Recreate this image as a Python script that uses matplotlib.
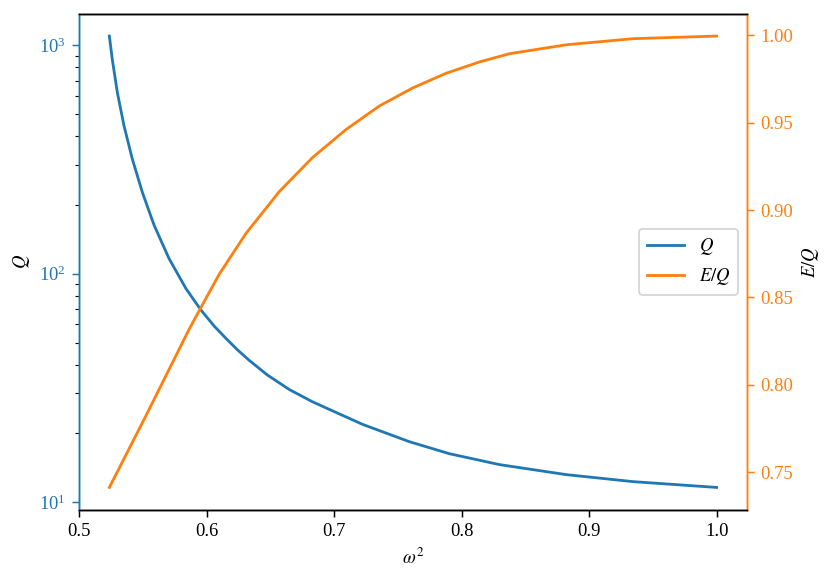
import matplotlib
matplotlib.use("Agg")
import matplotlib.pyplot as plt

plt.rcParams['font.family'] = ['serif']
plt.rcParams['font.serif'] = ['Liberation Serif', 'DejaVu Serif']
plt.rcParams['mathtext.fontset'] = 'stix'

# Data
omega2_q = [0.5238, 0.5261, 0.5301, 0.5353, 0.5418, 0.5497, 0.5589, 0.5706, 0.5838,
            0.5955, 0.6060, 0.6151, 0.6243, 0.6334, 0.6478, 0.6650, 0.6831, 0.7224,
            0.7590, 0.7904, 0.8297, 0.8820, 0.9343, 1.0]
Q_vals = [1098, 867, 620, 444, 318, 227, 163, 116.5, 86.2,
          69.5, 59.0, 52.2, 46.4, 41.8, 36.0, 31.1, 27.5, 21.9,
          18.4, 16.3, 14.6, 13.2, 12.3, 11.6]

omega2_e = [0.5238, 0.5524, 0.5785, 0.5863, 0.5955, 0.6099, 0.6308, 0.6570, 0.6831,
            0.7093, 0.7355, 0.7616, 0.7878, 0.8140, 0.8375, 0.8820, 0.9343, 1.0]
EQ_vals = [0.7413, 0.7822, 0.8203, 0.8317, 0.8441, 0.8632, 0.8865, 0.9105, 0.9300,
           0.9460, 0.9595, 0.9698, 0.9782, 0.9847, 0.9894, 0.9945, 0.9980, 0.9995]

dpi = 134
fig, ax = plt.subplots(figsize=(831 / dpi, 581 / dpi), dpi=dpi)
fig.subplots_adjust(left=79 / 831, right=747 / 831, top=1 - 13.5 / 581, bottom=1 - 510 / 581)

l1, = ax.plot(omega2_q, Q_vals, color='C0', label=r'$Q$')
ax.set_yscale('log')
ax.set_xlabel(r'$\omega^2$')
ax.set_ylabel(r'$Q$')
ax.tick_params(axis='y', colors='C0')
ax.spines['left'].set_color('C0')
ax.spines['right'].set_color('C1')

ax2 = ax.twinx()
l2, = ax2.plot(omega2_e, EQ_vals, color='C1', label=r'$E/Q$')
ax2.set_ylabel(r'$E/Q$')
ax2.tick_params(axis='y', colors='C1')
ax2.spines['left'].set_color('C0')
ax2.spines['right'].set_color('C1')

ax2.legend(handles=[l1, l2], loc='center right')

fig.savefig('out.png', dpi=dpi)
